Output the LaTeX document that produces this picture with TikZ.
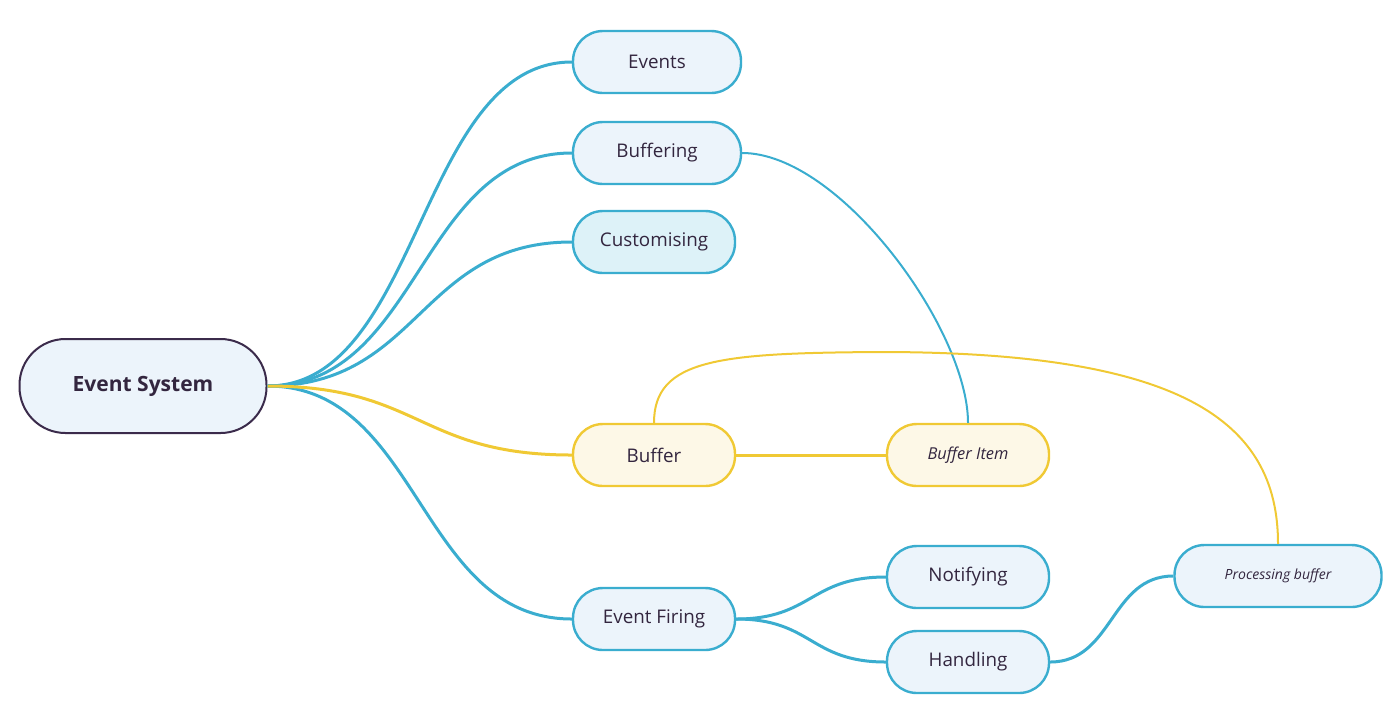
\documentclass[tikz,border=0pt]{standalone}
\usepackage{fontspec}
\setmainfont{Open Sans}
\definecolor{linkblue}{HTML}{3AADCF}
\definecolor{linkyellow}{HTML}{F0C934}
\definecolor{inkdark}{HTML}{33263F}
\definecolor{rootedge}{HTML}{3B2B4B}
\definecolor{bluefill}{HTML}{ECF4FB}
\definecolor{cyanfill}{HTML}{DDF2F8}
\definecolor{yellowfill}{HTML}{FDF8E7}

\begin{document}
\begin{tikzpicture}[x=0.5pt,y=-0.5pt,
  topic/.style={draw=linkblue, fill=bluefill, line width=1.2pt, rounded corners=15pt,
    minimum width=81pt, minimum height=31pt, text=inkdark, font=\fontsize{9.4}{11}\selectfont},
  yellowtopic/.style={topic, draw=linkyellow, fill=yellowfill},
  rootnode/.style={draw=rootedge, fill=bluefill, line width=1pt, rounded corners=23pt,
    minimum width=123.5pt, minimum height=47pt, text=inkdark, font=\fontsize{10.5}{12}\selectfont\bfseries},
  link/.style={draw=linkblue, line width=1.5pt},
  thinlink/.style={draw=linkblue, line width=1pt},
  yellowlink/.style={draw=linkyellow, line width=1.5pt},
  thinyellow/.style={draw=linkyellow, line width=1pt}]
\useasboundingbox (0,0) rectangle (1400,724);

% Draw the root and the topics
  \node[rootnode] (root) at (143,386) {Event System};
  \node[topic, minimum width=84pt] (events) at (657,62) {Events};
  \node[topic, minimum width=84pt] (buffering) at (657,153) {Buffering};
  \node[topic, fill=cyanfill] (custom) at (654,242) {Customising};
  \node[yellowtopic] (buffer) at (654,455) {Buffer};
  \node[yellowtopic, font=\fontsize{8.2}{10}\selectfont\itshape] (bufitem) at (968,455) {Buffer Item};
  \node[topic] (firing) at (654,619) {Event Firing};
  \node[topic] (notify) at (968,577) {Notifying};
  \node[topic] (handle) at (968,662) {Handling};
  \node[topic, minimum width=103.5pt, font=\fontsize{7}{9}\selectfont\itshape] (procbuf) at (1278,576) {Processing buffer};

% Draw the links from the root
  \draw[link] (root.east) .. controls +(153,0) and +(-153,0) .. (events.west);
  \draw[link] (root.east) .. controls +(153,0) and +(-153,0) .. (buffering.west);
  \draw[link] (root.east) .. controls +(153,0) and +(-153,0) .. (custom.west);
  \draw[link] (root.east) .. controls +(153,0) and +(-153,0) .. (firing.west);
  \draw[yellowlink] (root.east) .. controls +(153,0) and +(-153,0) .. (buffer.west);

% Draw the other links
  \draw[yellowlink] (buffer.east) -- (bufitem.west);
  \draw[thinlink] (buffering.east) .. controls (840,153) and (968,330) .. (bufitem.north);
  \draw[thinyellow] (buffer.north) .. controls +(0,-64) and (720,353) .. (880,352)
     .. controls (1180,352) and (1278,420) .. (procbuf.north);
  \draw[link] (firing.east) .. controls +(76,0) and +(-76,0) .. (notify.west);
  \draw[link] (firing.east) .. controls +(76,0) and +(-76,0) .. (handle.west);
  \draw[link] (handle.east) .. controls +(63,0) and +(-63,0) .. (procbuf.west);
\end{tikzpicture}
\end{document}
